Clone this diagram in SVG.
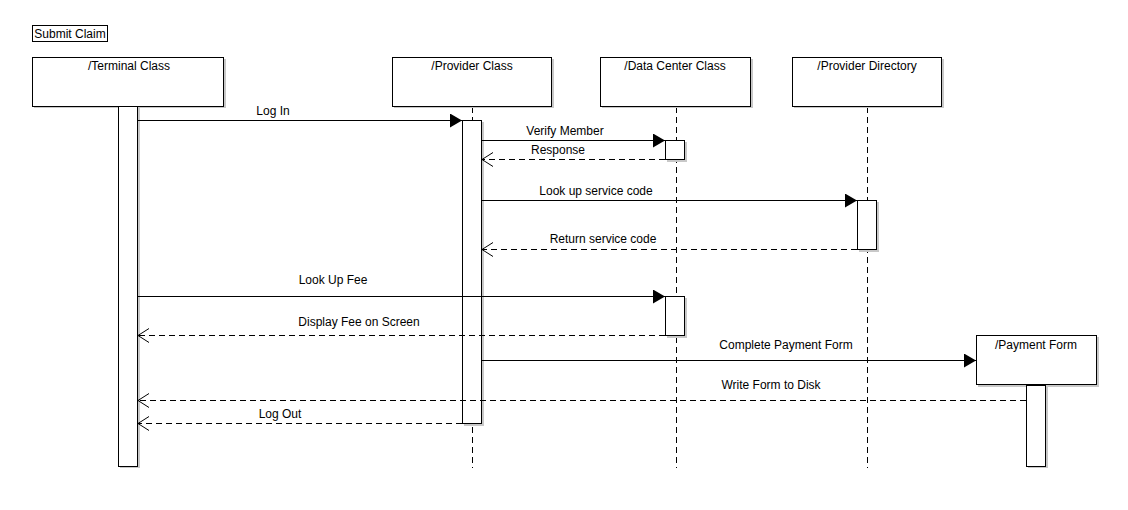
<svg xmlns="http://www.w3.org/2000/svg" width="1128" height="510" viewBox="0 0 1128 510">
<style>
text{font-family:"Liberation Sans",Arial,sans-serif;font-size:12px;fill:#000}
.c{text-anchor:middle}
.box{fill:#fff;stroke:#000;stroke-width:1}
.sh{fill:#c8c8c8;stroke:none}
.life{stroke:#000;stroke-width:1;stroke-dasharray:6,4;fill:none}
.msg{stroke:#000;stroke-width:1;fill:none}
.ret{stroke:#000;stroke-width:1;stroke-dasharray:6,4;fill:none}
</style>
<defs>
<marker id="sync" markerWidth="13" markerHeight="14" refX="12" refY="7" orient="auto" markerUnits="userSpaceOnUse">
<path d="M0,0 L12,7 L0,14 Z" fill="#000"/>
</marker>
<marker id="open" markerWidth="12" markerHeight="16" refX="11" refY="8" orient="auto" markerUnits="userSpaceOnUse">
<path d="M0,1 L11,8 L0,15" fill="none" stroke="#000" stroke-width="1"/>
</marker>
</defs>
<rect width="1128" height="510" fill="#fff"/>
<g id="frame-title">
<rect x="32.5" y="25.5" width="75" height="16" fill="#fff" stroke="#000"/>
<text x="70" y="37.5" class="c">Submit Claim</text>
</g>
<g id="lifelines">
<line class="life" x1="472.5" y1="107" x2="472.5" y2="468"/>
<line class="life" x1="676.5" y1="107" x2="676.5" y2="468"/>
<line class="life" x1="867.5" y1="107" x2="867.5" y2="468"/>
</g>
<g id="terminal">
<rect class="sh" x="34" y="59" width="192" height="49"/>
<rect class="box" x="32.5" y="57.5" width="191" height="49"/>
<text x="129" y="70" class="c">/Terminal Class</text>
<rect class="sh" x="120" y="108" width="20" height="360"/>
<rect class="box" x="118.5" y="106.5" width="19" height="360"/>
</g>
<g id="provider">
<rect class="sh" x="394" y="59" width="160" height="49"/>
<rect class="box" x="392.5" y="57.5" width="159" height="49"/>
<text x="472" y="70" class="c">/Provider Class</text>
<rect class="sh" x="464" y="122" width="20" height="304"/>
<rect class="box" x="462.5" y="120.5" width="19" height="303"/>
</g>
<g id="datacenter">
<rect class="sh" x="602" y="59" width="151" height="49"/>
<rect class="box" x="600.5" y="57.5" width="150" height="49"/>
<text x="675" y="70" class="c">/Data Center Class</text>
<rect class="sh" x="667" y="142" width="20" height="20"/>
<rect class="box" x="665.5" y="140.5" width="19" height="19"/>
<rect class="sh" x="667" y="298" width="20" height="40"/>
<rect class="box" x="665.5" y="296.5" width="19" height="39"/>
</g>
<g id="directory">
<rect class="sh" x="794" y="59" width="150" height="49"/>
<rect class="box" x="792.5" y="57.5" width="149" height="49"/>
<text x="867" y="70" class="c">/Provider Directory</text>
<rect class="sh" x="859" y="202" width="20" height="50"/>
<rect class="box" x="857.5" y="200.5" width="19" height="49"/>
</g>
<g id="paymentform">
<rect class="sh" x="978" y="337" width="121" height="50"/>
<rect class="box" x="976.5" y="335.5" width="120" height="49"/>
<text x="1036" y="349" class="c">/Payment Form</text>
<rect class="sh" x="1028" y="387" width="20" height="81"/>
<rect class="box" x="1026.5" y="385.5" width="19" height="81"/>
</g>
<g id="connectors">
<line class="msg" x1="138" y1="120.5" x2="462" y2="120.5" marker-end="url(#sync)"/>
<text x="273" y="115" class="c">Log In</text>
<line class="msg" x1="482" y1="140.5" x2="665" y2="140.5" marker-end="url(#sync)"/>
<text x="565" y="135" class="c">Verify Member</text>
<line class="ret" x1="665" y1="159.5" x2="482" y2="159.5" marker-end="url(#open)"/>
<text x="558" y="154" class="c">Response</text>
<line class="msg" x1="482" y1="200.5" x2="857" y2="200.5" marker-end="url(#sync)"/>
<text x="596" y="195" class="c">Look up service code</text>
<line class="ret" x1="857" y1="249.5" x2="482" y2="249.5" marker-end="url(#open)"/>
<text x="603" y="243" class="c">Return service code</text>
<line class="msg" x1="138" y1="296.5" x2="665" y2="296.5" marker-end="url(#sync)"/>
<text x="333" y="284" class="c">Look Up Fee</text>
<line class="ret" x1="665" y1="335.5" x2="138" y2="335.5" marker-end="url(#open)"/>
<text x="359" y="326" class="c">Display Fee on Screen</text>
<line class="msg" x1="482" y1="360.5" x2="976" y2="360.5" marker-end="url(#sync)"/>
<text x="786" y="349" class="c">Complete Payment Form</text>
<line class="ret" x1="1026" y1="400.5" x2="138" y2="400.5" marker-end="url(#open)"/>
<text x="771" y="389" class="c">Write Form to Disk</text>
<line class="ret" x1="462" y1="423.5" x2="138" y2="423.5" marker-end="url(#open)"/>
<text x="280" y="418" class="c">Log Out</text>
</g>
</svg>
